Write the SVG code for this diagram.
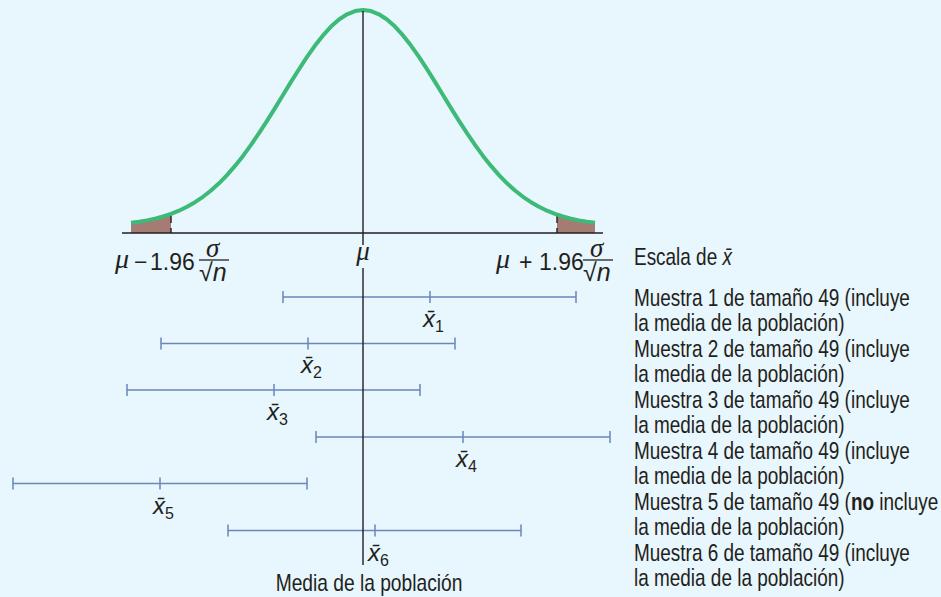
<svg xmlns="http://www.w3.org/2000/svg" width="941" height="597" viewBox="0 0 941 597">
<style>
.t{font-family:"Liberation Sans",Arial,sans-serif;fill:#231f20}
.s{font-family:"Liberation Serif","Times New Roman",serif;font-style:italic;fill:#231f20}
.i{font-style:italic}
.iv{stroke:#6a86ba;stroke-width:1.5;fill:none}
.ax{stroke:#231f20;stroke-width:1.4;fill:none}
.tail{fill:#a47c74;stroke:none}
</style>
<rect x="0" y="0" width="941" height="597" fill="#e8f6fd"/>

<g id="tails">
<polygon class="tail" points="131,222.8 139,221.7 147,220.4 155,218.7 163,216.5 171,213.9 171,233 131,233"/>
<polygon class="tail" points="557,214.6 563,216.5 571,218.7 579,220.4 587,221.7 595,222.8 595,233 557,233"/>
<path class="ax" d="M171,213 V223 M171,228 V233 M557,213 V223 M557,228 V233" stroke-width="1.2"/>
</g>

<g id="axis">
<line class="ax" x1="122" y1="233" x2="603" y2="233"/>
</g>

<g id="curve">
<polyline fill="none" stroke="#3eba78" stroke-width="4" stroke-linejoin="round" points="131,222.8 139,221.7 147,220.4 155,218.7 163,216.5 171,213.9 179,210.7 187,206.8 195,202.2 203,196.8 211,190.5 219,183.3 227,175.1 235,165.9 243,155.9 251,144.9 259,133.2 267,120.9 275,108.1 283,95.0 291,81.9 299,69.2 307,56.9 315,45.6 323,35.4 331,26.6 339,19.5 347,14.3 355,11.1 363,10.0 371,11.1 379,14.3 387,19.5 395,26.6 403,35.4 411,45.6 419,56.9 427,69.2 435,81.9 443,95.0 451,108.1 459,120.9 467,133.2 475,144.9 483,155.9 491,165.9 499,175.1 507,183.3 515,190.5 523,196.8 531,202.2 539,206.8 547,210.7 555,213.9 563,216.5 571,218.7 579,220.4 587,221.7 595,222.8"/>
</g>

<g id="intervals">
<g id="interval1"><path class="iv" d="M283,297 H576 M283,291 V303 M576,291 V303 M430,291 V303"/><text class="t i" x="423" y="327" font-size="24">x̄<tspan font-size="16" font-style="normal" dy="5">1</tspan></text></g>
<g id="interval2"><path class="iv" d="M161,343.5 H455 M161,337.5 V349.5 M455,337.5 V349.5 M308,337.5 V349.5"/><text class="t i" x="301" y="373" font-size="24">x̄<tspan font-size="16" font-style="normal" dy="5">2</tspan></text></g>
<g id="interval3"><path class="iv" d="M127,390 H420 M127,384 V396 M420,384 V396 M274,384 V396"/><text class="t i" x="267" y="420" font-size="24">x̄<tspan font-size="16" font-style="normal" dy="5">3</tspan></text></g>
<g id="interval4"><path class="iv" d="M316,437 H610 M316,431 V443 M610,431 V443 M463,431 V443"/><text class="t i" x="456" y="467" font-size="24">x̄<tspan font-size="16" font-style="normal" dy="5">4</tspan></text></g>
<g id="interval5"><path class="iv" d="M13,483.5 H307 M13,477.5 V489.5 M307,477.5 V489.5 M160,477.5 V489.5"/><text class="t i" x="153" y="514" font-size="24">x̄<tspan font-size="16" font-style="normal" dy="5">5</tspan></text></g>
<g id="interval6"><path class="iv" d="M228,530.5 H521 M228,524.5 V536.5 M521,524.5 V536.5 M375,524.5 V536.5"/><text class="t i" x="368" y="561" font-size="24">x̄<tspan font-size="16" font-style="normal" dy="5">6</tspan></text></g>
</g>

<g id="mean-line">
<path class="ax" d="M363,11 V245 M363,268 V565"/>
</g>

<g id="labels">
<text class="s" x="363" y="260" font-size="27" text-anchor="middle">μ</text>
<g id="lower-limit">
<text class="s" x="115" y="268" font-size="28">μ</text>
<text class="t" x="134" y="270" font-size="23">−</text>
<text class="t" x="150" y="270" font-size="23">1.96</text>
<text class="s" x="206" y="257" font-size="27">σ</text>
<line x1="199" y1="260" x2="229" y2="260" stroke="#231f20" stroke-width="1.3"/>
<text class="t" x="199" y="281" font-size="25">√<tspan class="i">n</tspan></text>
</g>
<g id="upper-limit">
<text class="s" x="496" y="268" font-size="28">μ</text>
<text class="t" x="519" y="270" font-size="23">+</text>
<text class="t" x="539" y="270" font-size="23">1.96</text>
<text class="s" x="590" y="257" font-size="27">σ</text>
<line x1="583" y1="260" x2="613" y2="260" stroke="#231f20" stroke-width="1.3"/>
<text class="t" x="583" y="281" font-size="25">√<tspan class="i">n</tspan></text>
</g>
<text class="t" font-size="24" transform="translate(369,591) scale(0.8,1)" text-anchor="middle">Media de la población</text>
<g id="legend" transform="translate(634,0) scale(0.79,1)">
<text class="t" x="0" y="265" font-size="24">Escala de <tspan class="i">x̄</tspan></text>
<text class="t" x="0" y="306" font-size="24">Muestra 1 de tamaño 49 (incluye</text>
<text class="t" x="0" y="331.5" font-size="24">la media de la población)</text>
<text class="t" x="0" y="357" font-size="24">Muestra 2 de tamaño 49 (incluye</text>
<text class="t" x="0" y="382.5" font-size="24">la media de la población)</text>
<text class="t" x="0" y="408" font-size="24">Muestra 3 de tamaño 49 (incluye</text>
<text class="t" x="0" y="433.5" font-size="24">la media de la población)</text>
<text class="t" x="0" y="459" font-size="24">Muestra 4 de tamaño 49 (incluye</text>
<text class="t" x="0" y="484.5" font-size="24">la media de la población)</text>
<text class="t" x="0" y="510" font-size="24">Muestra 5 de tamaño 49 (<tspan font-weight="bold">no</tspan> incluye</text>
<text class="t" x="0" y="535.5" font-size="24">la media de la población)</text>
<text class="t" x="0" y="561" font-size="24">Muestra 6 de tamaño 49 (incluye</text>
<text class="t" x="0" y="586.5" font-size="24">la media de la población)</text>
</g>
</g>
</svg>
